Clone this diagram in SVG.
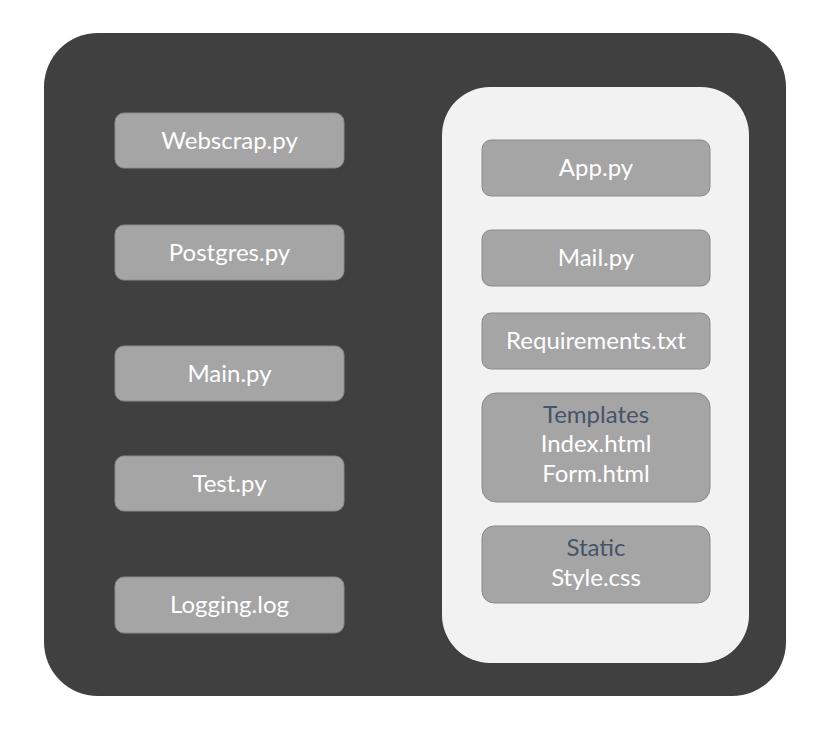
<svg xmlns="http://www.w3.org/2000/svg" width="829" height="742" viewBox="0 0 829 742">
  <style>
    .box { fill: #a5a5a5; stroke: #8a8a8a; stroke-width: 1; }
    .lbl { font-family: Lato, "Open Sans", "Liberation Sans", sans-serif; font-size: 24px; fill: #ffffff; text-anchor: middle; }
    .hdr { fill: #44546a; }
  </style>
  <rect width="829" height="742" fill="#ffffff"/>
  <!-- project root -->
  <rect id="root" x="44" y="33" width="742" height="663" rx="54" fill="#404040"/>
  <!-- web app folder -->
  <rect id="webapp" x="442" y="87" width="307" height="576" rx="48" fill="#f2f2f2"/>

  <g id="webscrap"><rect class="box" x="115" y="113" width="229" height="55" rx="9"/><text class="lbl" x="229.5" y="149">Webscrap.py</text></g>
  <g id="postgres"><rect class="box" x="115" y="225" width="229" height="55" rx="9"/><text class="lbl" x="229.5" y="261">Postgres.py</text></g>
  <g id="main"><rect class="box" x="115" y="346" width="229" height="55" rx="9"/><text class="lbl" x="229.5" y="382">Main.py</text></g>
  <g id="test"><rect class="box" x="115" y="456" width="229" height="55" rx="9"/><text class="lbl" x="229.5" y="492">Test.py</text></g>
  <g id="logging"><rect class="box" x="115" y="577" width="229" height="56" rx="9"/><text class="lbl" x="229.5" y="613">Logging.log</text></g>

  <g id="app"><rect class="box" x="482" y="140" width="228" height="56" rx="9"/><text class="lbl" x="596" y="176">App.py</text></g>
  <g id="mail"><rect class="box" x="482" y="230" width="228" height="56" rx="9"/><text class="lbl" x="596" y="266">Mail.py</text></g>
  <g id="requirements"><rect class="box" x="482" y="313" width="228" height="56" rx="9"/><text class="lbl" x="596" y="349">Requirements.txt</text></g>
  <g id="templates"><rect class="box" x="482" y="393" width="228" height="109" rx="14"/>
    <text class="lbl hdr" x="596" y="423">Templates</text>
    <text class="lbl" x="596" y="452">Index.html</text>
    <text class="lbl" x="596" y="482">Form.html</text></g>
  <g id="static"><rect class="box" x="482" y="526" width="228" height="77" rx="12"/>
    <text class="lbl hdr" x="596" y="556">Static</text>
    <text class="lbl" x="596" y="586">Style.css</text></g>
  <g id="connectors"></g>
</svg>
